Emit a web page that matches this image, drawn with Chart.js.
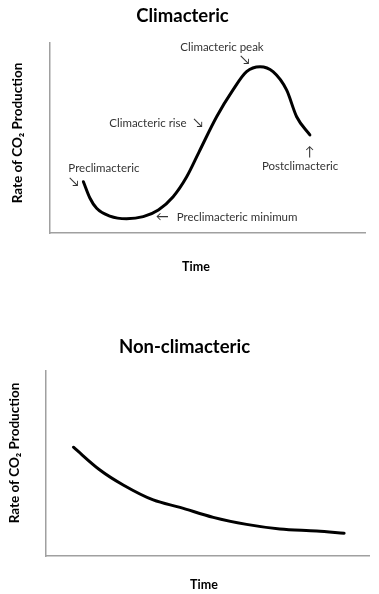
<!DOCTYPE html>
<html>
<head>
<meta charset="utf-8">
<script src="https://cdn.jsdelivr.net/npm/chart.js@4.4.1/dist/chart.umd.min.js"></script>
<style>
  html, body { margin: 0; padding: 0; background: #fff; }
  body { width: 379px; height: 594px; position: relative; overflow: hidden; }
  .box { position: absolute; left: 0; width: 379px; }
  #b1 { top: 0; height: 290px; }
  #b2 { top: 290px; height: 304px; }
</style>
</head>
<body>
<div class="box" id="b1"><canvas id="c1" width="379" height="290"></canvas></div>
<div class="box" id="b2"><canvas id="c2" width="379" height="304"></canvas></div>
<script>
// ---- Data ----
const climTime = [10.6, 12.7, 14.8, 19.0, 24.3, 29.6, 34.4, 39.1, 43.4, 47.3, 52.9, 58.1, 62.4, 66.7, 70.8, 75.1, 78.3, 82.5];
const climRate = [27.0, 18.3, 13.0, 8.9, 7.5, 8.6, 12.1, 19.1, 29.6, 42.6, 61.2, 75.3, 84.9, 87.5, 84.9, 75.3, 61.2, 51.6];

const nonTime = [8.5, 16.7, 23.9, 33.2, 41.5, 51.8, 62.1, 72.4, 83.8, 92.3];
const nonRate = [58.8, 46.5, 38.4, 30.3, 26.3, 20.9, 17.1, 14.6, 13.5, 12.3];

const stageLabels = ['Climacteric peak', 'Climacteric rise', 'Preclimacteric', 'Preclimacteric minimum', 'Postclimacteric'];
const stageArrows = ['\u2198', '\u2198', '\u2198', '\u2190', '\u2191'];

const titles = ['Climacteric', 'Non-climacteric'];
const xTitle = 'Time';
const yTitle = 'Rate of CO\u2082 Production';

// ---- Placement of annotations (data units) ----
const stagePlacement = [
  { tx: 54.6, ty: 97.9, ax: 61.9, ay: 91.0 },
  { tx: 31.1, ty: 57.9, ax: 47.0, ay: 57.9 },
  { tx: 17.1, ty: 34.2, ax: 7.6,  ay: 26.8 },
  { tx: 59.4, ty: 8.4,  ax: 35.6, ay: 8.4 },
  { tx: 79.4, ty: 35.3, ax: 82.5, ay: 42.6 }
];

const FONT = "Lato, 'DejaVu Sans', sans-serif";

const annotPlugin = {
  id: 'annot',
  afterDatasetsDraw(chart, args, opts) {
    const ctx = chart.ctx;
    const xs = chart.scales.x, ys = chart.scales.y;
    ctx.save();
    ctx.textBaseline = 'middle';
    ctx.textAlign = 'center';
    // axis titles
    ctx.fillStyle = '#000';
    ctx.font = 'bold 12.5px ' + FONT;
    ctx.fillText(xTitle, opts.xTitleX, opts.xTitleY);
    ctx.save();
    ctx.translate(opts.yTitleX, opts.yTitleY);
    ctx.rotate(-Math.PI / 2);
    ctx.font = 'bold 13.5px ' + FONT;
    ctx.fillText(yTitle, 0, 0);
    ctx.restore();
    if (opts.stages) {
      ctx.fillStyle = '#333';
      stageLabels.forEach((lab, i) => {
        const p = stagePlacement[i];
        ctx.font = '11.5px ' + FONT;
        ctx.fillText(lab, xs.getPixelForValue(p.tx), ys.getPixelForValue(p.ty));
        ctx.font = '13px ' + FONT;
        ctx.fillText(stageArrows[i], xs.getPixelForValue(p.ax), ys.getPixelForValue(p.ay));
      });
    }
    ctx.restore();
  }
};

function makeChart(id, times, rates, title, cfg) {
  const pts = times.map((t, i) => ({ x: t, y: rates[i] }));
  return new Chart(document.getElementById(id), {
    type: 'line',
    data: { datasets: [{ data: pts, borderColor: '#000', borderWidth: 3, pointRadius: 0, cubicInterpolationMode: 'monotone', borderCapStyle: 'round', borderJoinStyle: 'round', fill: false }] },
    options: {
      responsive: false,
      animation: false,
      events: [],
      layout: { padding: { left: 0, right: cfg.padRight, top: 0, bottom: 0 } },
      plugins: {
        legend: { display: false },
        tooltip: { enabled: false },
        title: {
          display: true, text: title, color: '#000',
          font: { family: FONT, size: 18.5, weight: 'bold' },
          padding: { top: cfg.titleTop, bottom: cfg.titleBottom }
        },
        annot: cfg.annot
      },
      scales: {
        x: {
          type: 'linear', min: 0, max: 100,
          ticks: { display: false },
          grid: { display: false, drawTicks: false },
          border: { display: true, color: '#a0a0a0', width: 1.5 },
          afterFit: (s) => { s.height = cfg.xHeight; }
        },
        y: {
          type: 'linear', min: 0, max: 100,
          ticks: { display: false },
          grid: { display: false, drawTicks: false },
          border: { display: true, color: '#a0a0a0', width: 1.5 },
          afterFit: (s) => { s.width = cfg.yWidth; }
        }
      }
    },
    plugins: [annotPlugin]
  });
}

makeChart('c1', climTime, climRate, titles[0], {
  padRight: 14, titleTop: 4.5, titleBottom: 16.3, xHeight: 57, yWidth: 50,
  annot: { stages: true, xTitleX: 196, xTitleY: 267, yTitleX: 18, yTitleY: 133 }
});
makeChart('c2', nonTime, nonRate, titles[1], {
  padRight: 10, titleTop: 45.7, titleBottom: 13.1, xHeight: 38, yWidth: 46,
  annot: { stages: false, xTitleX: 204, xTitleY: 295, yTitleX: 15, yTitleY: 163 }
});
</script>
</body>
</html>
